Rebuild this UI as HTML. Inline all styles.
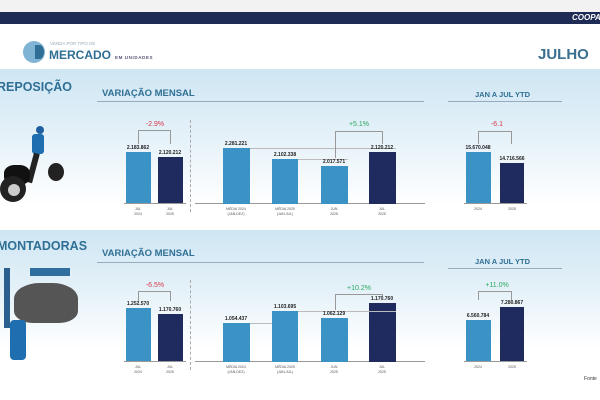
<!DOCTYPE html>
<html><head><meta charset="utf-8"><style>
*{margin:0;padding:0;box-sizing:border-box}
body{width:600px;height:400px;overflow:hidden;background:#fff;font-family:"Liberation Sans",sans-serif;position:relative}
.a{position:absolute}
.band{position:absolute;left:0;width:600px;background:linear-gradient(#cfe6f3,#e6f2f9 45%,#fff 85%)}
.t{position:absolute;color:#2f6f95;font-weight:bold;white-space:nowrap}
.b{position:absolute}
.l{background:#3a93c4}.d{background:#1f2b5e}
.v{position:absolute;font-size:5px;font-weight:bold;color:#222;width:40px;text-align:center;white-space:nowrap}
.x{position:absolute;font-size:3.5px;color:#555;width:40px;text-align:center;line-height:5px}
.p{position:absolute;font-size:7px;width:40px;text-align:center}
.r{color:#d83a4a}.g{color:#2aa860}
.br{position:absolute;border:1px solid #999;border-bottom:none}
.vl{position:absolute;width:1px;background:#999}
.hl{position:absolute;height:1px;background:#bbb}
</style></head><body>
<div class="a" style="left:0;top:0;width:600px;height:12px;background:#f2f2f2"></div>
<div class="a" style="left:0;top:12px;width:600px;height:12px;background:#1d2b55"></div>
<div class="t" style="left:572px;top:13px;font-size:8px;color:#fff;font-style:italic">COOPA</div>

<div class="a" style="left:23px;top:41px;width:22px;height:22px;border-radius:50%;background:#7fb4d4"></div>
<div class="a" style="left:35px;top:45px;width:9px;height:14px;border-radius:0 50% 50% 0;background:#2f6f95"></div>
<div class="t" style="left:50px;top:41px;font-size:4.5px;color:#9ab;font-weight:normal">VENDA POR TIPO DE</div>
<div class="t" style="left:49px;top:48px;font-size:12px;color:#2f6f95">MERCADO</div>
<div class="t" style="left:115px;top:55px;font-size:4.5px;color:#557;letter-spacing:0.6px">EM UNIDADES</div>
<div class="t" style="left:538px;top:46px;font-size:15px;color:#3a6f90">JULHO</div>

<div class="band" style="top:69px;height:160px"></div>
<div class="band" style="top:230px;height:140px"></div>

<!-- section 1 -->
<div class="t" style="left:-3px;top:80px;font-size:12.5px">REPOSIÇÃO</div>
<div class="t" style="left:102px;top:88px;font-size:9.5px">VARIAÇÃO MENSAL</div>
<div class="a" style="left:97px;top:101px;width:327px;height:1px;background:#9ab"></div>
<div class="t" style="left:475px;top:90px;font-size:7.5px">JAN A JUL YTD</div>
<div class="a" style="left:448px;top:101px;width:114px;height:1px;background:#9ab"></div>

<!-- icon 1 -->
<div class="a" style="left:36px;top:126px;width:8px;height:8px;border-radius:50%;background:#1f5fa0"></div>
<div class="a" style="left:32px;top:134px;width:12px;height:20px;background:#1f6fb0;border-radius:3px"></div>
<div class="a" style="left:30px;top:153px;width:6px;height:30px;background:#222;transform:rotate(15deg)"></div>
<div class="a" style="left:48px;top:163px;width:16px;height:18px;border-radius:50%;background:#222"></div>
<div class="a" style="left:4px;top:165px;width:26px;height:20px;border-radius:40%;background:#111"></div>
<div class="a" style="left:0px;top:176px;width:26px;height:26px;border-radius:50%;background:#222"></div>
<div class="a" style="left:8px;top:184px;width:12px;height:12px;border-radius:50%;background:#ccc"></div>

<div class="b l" style="left:126px;top:152px;width:25px;height:52px"></div>
<div class="b d" style="left:158px;top:157px;width:25px;height:47px"></div>
<div class="a" style="left:124px;top:203px;width:62px;height:1px;background:#999"></div>
<div class="a" style="left:190px;top:120px;height:92px;border-left:1px dashed #aaa"></div>
<div class="a" style="left:195px;top:203px;width:230px;height:1px;background:#999"></div>
<div class="b l" style="left:223px;top:148px;width:27px;height:56px"></div>
<div class="b l" style="left:272px;top:159px;width:26px;height:45px"></div>
<div class="b l" style="left:321px;top:166px;width:27px;height:38px"></div>
<div class="b d" style="left:369px;top:152px;width:27px;height:52px"></div>
<div class="hl" style="left:250px;top:148px;width:146px"></div>
<div class="hl" style="left:298px;top:159px;width:50px"></div>
<div class="b l" style="left:466px;top:152px;width:25px;height:52px"></div>
<div class="b d" style="left:500px;top:163px;width:24px;height:41px"></div>
<div class="a" style="left:464px;top:203px;width:63px;height:1px;background:#999"></div>

<div class="br" style="left:138px;top:130px;width:33px;height:14px"></div>
<div class="a" style="left:335px;top:131px;width:48px;height:1px;background:#999"></div>
<div class="vl" style="left:335px;top:131px;height:27px"></div>
<div class="vl" style="left:382px;top:131px;height:13px"></div>
<div class="br" style="left:478px;top:131px;width:34px;height:13px"></div>
<div class="p r" style="left:135px;top:121px">-2.9%</div>
<div class="p g" style="left:339px;top:121px">+5.1%</div>
<div class="p r" style="left:477px;top:121px">-6.1</div>

<div class="v" style="left:118px;top:145px">2.183.862</div>
<div class="v" style="left:150px;top:150px">2.120.212</div>
<div class="v" style="left:216px;top:141px">2.281.221</div>
<div class="v" style="left:265px;top:152px">2.102.338</div>
<div class="v" style="left:314px;top:159px">2.017.571</div>
<div class="v" style="left:362px;top:145px">2.120.212</div>
<div class="v" style="left:458px;top:145px">15.670.048</div>
<div class="v" style="left:492px;top:156px">14.716.566</div>

<div class="x" style="left:118px;top:207px">JUL<br>2024</div>
<div class="x" style="left:150px;top:207px">JUL<br>2025</div>
<div class="x" style="left:216px;top:207px">MÉDIA 2024<br>(JAN-DEZ)</div>
<div class="x" style="left:265px;top:207px">MÉDIA 2025<br>(JAN-JUL)</div>
<div class="x" style="left:314px;top:207px">JUN<br>2025</div>
<div class="x" style="left:362px;top:207px">JUL<br>2025</div>
<div class="x" style="left:458px;top:207px">2024</div>
<div class="x" style="left:492px;top:207px">2025</div>

<!-- section 2 -->
<div class="t" style="left:-3px;top:239px;font-size:12.5px">MONTADORAS</div>
<div class="t" style="left:102px;top:248px;font-size:9.5px">VARIAÇÃO MENSAL</div>
<div class="a" style="left:97px;top:262px;width:327px;height:1px;background:#9ab"></div>
<div class="t" style="left:475px;top:257px;font-size:7.5px">JAN A JUL YTD</div>
<div class="a" style="left:448px;top:268px;width:114px;height:1px;background:#9ab"></div>

<!-- icon 2 -->
<div class="a" style="left:4px;top:268px;width:6px;height:60px;background:#2a5f8f"></div>
<div class="a" style="left:14px;top:283px;width:64px;height:40px;border-radius:40% 40% 30% 30%;background:#555"></div>
<div class="a" style="left:30px;top:268px;width:40px;height:8px;background:#2f6fa0"></div>
<div class="a" style="left:10px;top:320px;width:16px;height:40px;background:#1f6fb0;border-radius:4px"></div>

<div class="b l" style="left:126px;top:308px;width:25px;height:54px"></div>
<div class="b d" style="left:158px;top:314px;width:25px;height:48px"></div>
<div class="a" style="left:124px;top:361px;width:62px;height:1px;background:#999"></div>
<div class="a" style="left:190px;top:280px;height:90px;border-left:1px dashed #aaa"></div>
<div class="a" style="left:195px;top:361px;width:230px;height:1px;background:#999"></div>
<div class="b l" style="left:223px;top:323px;width:27px;height:39px"></div>
<div class="b l" style="left:272px;top:311px;width:26px;height:51px"></div>
<div class="b l" style="left:321px;top:318px;width:27px;height:44px"></div>
<div class="b d" style="left:369px;top:303px;width:27px;height:59px"></div>
<div class="hl" style="left:250px;top:323px;width:22px"></div>
<div class="hl" style="left:298px;top:311px;width:98px"></div>
<div class="b l" style="left:466px;top:320px;width:25px;height:42px"></div>
<div class="b d" style="left:500px;top:307px;width:24px;height:55px"></div>
<div class="a" style="left:464px;top:361px;width:63px;height:1px;background:#999"></div>

<div class="br" style="left:138px;top:291px;width:33px;height:10px"></div>
<div class="a" style="left:335px;top:294px;width:48px;height:1px;background:#999"></div>
<div class="vl" style="left:335px;top:294px;height:16px"></div>
<div class="vl" style="left:382px;top:294px;height:2px"></div>
<div class="br" style="left:478px;top:291px;width:34px;height:9px"></div>
<div class="p r" style="left:135px;top:282px">-6.5%</div>
<div class="p g" style="left:339px;top:285px">+10.2%</div>
<div class="p g" style="left:477px;top:282px">+11.0%</div>

<div class="v" style="left:118px;top:301px">1.252.570</div>
<div class="v" style="left:150px;top:307px">1.170.760</div>
<div class="v" style="left:216px;top:316px">1.054.437</div>
<div class="v" style="left:265px;top:304px">1.103.695</div>
<div class="v" style="left:314px;top:311px">1.062.129</div>
<div class="v" style="left:362px;top:296px">1.170.760</div>
<div class="v" style="left:458px;top:313px">6.560.784</div>
<div class="v" style="left:492px;top:300px">7.280.867</div>

<div class="x" style="left:118px;top:365px">JUL<br>2024</div>
<div class="x" style="left:150px;top:365px">JUL<br>2025</div>
<div class="x" style="left:216px;top:365px">MÉDIA 2024<br>(JAN-DEZ)</div>
<div class="x" style="left:265px;top:365px">MÉDIA 2025<br>(JAN-JUL)</div>
<div class="x" style="left:314px;top:365px">JUN<br>2025</div>
<div class="x" style="left:362px;top:365px">JUL<br>2025</div>
<div class="x" style="left:458px;top:365px">2024</div>
<div class="x" style="left:492px;top:365px">2025</div>

<div class="a" style="left:584px;top:376px;font-size:5px;color:#333">Fonte</div>
</body></html>
